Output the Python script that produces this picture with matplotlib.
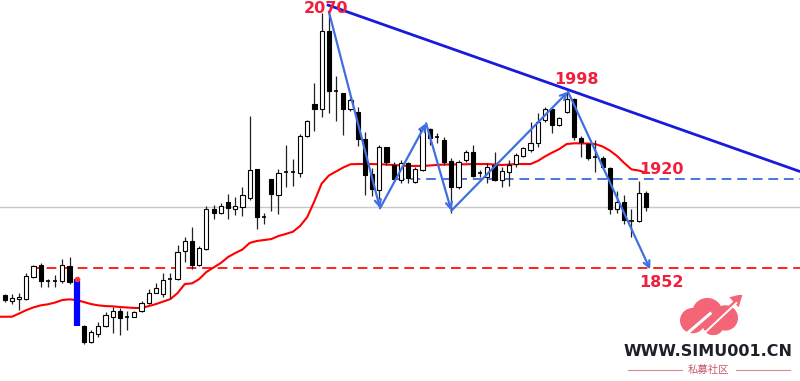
import matplotlib.pyplot as plt
import numpy as np
from matplotlib.patches import Circle, Polygon

# candle data (price), one per bar, left to right
opens = [1829.8, 1825.0, 1826.4, 1826.6, 1845.5, 1855.4, 1842.4, 1842.4, 1842.1, 1854.5,
         1843.3, 1803.8, 1790.6, 1797.1, 1803.8, 1811.7, 1816.5, 1811.6, 1811.7, 1816.8,
         1823.0, 1832.0, 1830.9, 1843.8, 1843.3, 1867.5, 1875.7, 1855.4, 1868.9, 1902.4,
         1899.1, 1908.9, 1902.7, 1904.8, 1911.7, 1936.2, 1896.5, 1928.0, 1914.5, 1934.6,
         1934.6, 1933.4, 1964.8, 1991.4, 1986.9, 2053.4, 2003.0, 2001.0, 1986.9, 1984.9,
         1961.6, 1932.0, 1918.7, 1954.8, 1939.9, 1927.2, 1941.3, 1925.8, 1935.6, 1970.3,
         1964.1, 1961.0, 1943.3, 1921.5, 1944.1, 1951.1, 1933.1, 1930.0, 1939.9, 1927.6,
         1934.4, 1940.7, 1947.5, 1952.6, 1958.2, 1977.9, 1986.9, 1973.7, 1984.9, 1995.6,
         1963.1, 1957.9, 1946.9, 1945.5, 1937.1, 1903.1, 1908.9, 1893.1, 1892.8, 1916.5]
highs = [1830.9, 1830.9, 1831.7, 1848.9, 1855.4, 1856.8, 1843.5, 1846.9, 1860.2, 1862.1,
         1843.3, 1804.7, 1800.4, 1807.5, 1815.9, 1820.1, 1819.0, 1816.8, 1816.5, 1825.0,
         1834.8, 1839.9, 1848.4, 1848.6, 1872.3, 1879.3, 1887.2, 1871.4, 1905.2, 1906.1,
         1907.8, 1915.4, 1913.1, 1921.0, 1981.3, 1936.5, 1899.6, 1928.0, 1936.2, 1956.8,
         1944.7, 1966.1, 1978.3, 2008.9, 2068.6, 2070.0, 2015.1, 2001.0, 1996.5, 1988.6,
         1968.0, 1937.1, 1956.8, 1955.1, 1942.7, 1944.1, 1942.7, 1938.4, 1973.7, 1970.9,
         1966.7, 1963.8, 1946.0, 1944.1, 1952.6, 1956.8, 1935.6, 1941.6, 1950.9, 1937.9,
         1944.1, 1950.3, 1955.3, 1976.5, 1984.1, 1989.1, 1988.0, 1980.2, 2001.8, 1996.2,
         1964.4, 1958.9, 1960.6, 1947.7, 1938.6, 1918.2, 1914.5, 1902.4, 1926.6, 1918.2]
lows = [1824.4, 1822.4, 1817.3, 1825.8, 1844.4, 1836.8, 1836.8, 1836.8, 1840.4, 1839.3,
        1803.8, 1788.6, 1789.5, 1794.8, 1802.7, 1797.7, 1796.2, 1800.4, 1811.4, 1815.9,
        1822.4, 1831.5, 1828.6, 1827.2, 1842.7, 1858.2, 1851.7, 1854.5, 1868.0, 1894.0,
        1898.5, 1894.0, 1897.6, 1896.8, 1910.3, 1885.5, 1890.0, 1901.3, 1898.5, 1921.0,
        1922.1, 1930.0, 1963.5, 1968.6, 1980.7, 1983.6, 1977.3, 1965.2, 1985.9, 1955.9,
        1914.5, 1913.7, 1911.1, 1939.9, 1926.4, 1924.4, 1924.4, 1924.4, 1934.8, 1956.8,
        1958.2, 1939.9, 1899.1, 1919.6, 1942.7, 1929.7, 1929.7, 1924.7, 1926.4, 1921.5,
        1922.1, 1938.4, 1946.4, 1951.1, 1955.3, 1976.5, 1967.2, 1972.8, 1983.8, 1961.0,
        1946.9, 1944.1, 1933.9, 1937.6, 1898.5, 1899.6, 1890.0, 1879.3, 1892.0, 1901.3]
closes = [1825.8, 1827.5, 1828.6, 1846.1, 1854.5, 1842.1, 1841.9, 1841.9, 1855.4, 1840.8,
          1803.8, 1790.6, 1799.0, 1803.8, 1813.1, 1816.5, 1810.6, 1810.8, 1815.9, 1823.0,
          1832.0, 1836.2, 1842.7, 1843.1, 1866.6, 1875.7, 1855.4, 1869.5, 1902.4, 1899.1,
          1905.2, 1903.3, 1905.2, 1914.5, 1935.6, 1896.2, 1895.9, 1915.4, 1932.9, 1934.0,
          1934.0, 1964.4, 1977.3, 1986.9, 2053.4, 2002.7, 2002.4, 1986.9, 1994.8, 1961.6,
          1931.4, 1919.6, 1955.3, 1942.7, 1928.0, 1941.3, 1928.6, 1936.5, 1970.9, 1962.9,
          1963.5, 1942.7, 1921.5, 1942.7, 1951.1, 1931.0, 1932.5, 1938.4, 1927.2, 1934.8,
          1940.3, 1948.3, 1954.0, 1958.7, 1976.5, 1986.9, 1973.7, 1979.3, 1995.6, 1963.3,
          1959.3, 1945.5, 1946.4, 1938.2, 1902.9, 1908.4, 1893.1, 1892.6, 1916.5, 1904.6]
highlight_bar = 10

ma_x_start = -0.65
ma_values = [1811.7, 1811.7, 1814.4, 1817.3, 1819.6, 1821.3, 1822.2, 1823.7, 1825.8, 1826.4,
             1825.8, 1824.1, 1822.4, 1821.3, 1820.7, 1820.5, 1819.9, 1819.5, 1819.1, 1819.1,
             1820.7, 1822.4, 1824.5, 1826.6, 1831.7, 1839.3, 1839.9, 1843.5, 1849.5, 1853.3,
             1857.1, 1862.1, 1865.5, 1868.5, 1874.0, 1875.7, 1876.5, 1877.3, 1879.9, 1881.6,
             1883.5, 1888.3, 1895.9, 1909.4, 1924.2, 1931.0, 1934.4, 1937.8, 1940.5, 1940.7,
             1940.7, 1940.7, 1940.5, 1940.3, 1939.9, 1939.5, 1939.1, 1939.1, 1939.1, 1939.5,
             1939.9, 1940.3, 1940.3, 1940.5, 1940.5, 1940.7, 1940.7, 1940.7, 1940.3, 1939.9,
             1940.3, 1940.7, 1940.7, 1940.7, 1943.3, 1947.1, 1950.4, 1953.4, 1957.6, 1958.2,
             1958.2, 1958.0, 1957.6, 1955.5, 1952.1, 1947.5, 1941.6, 1936.2, 1935.2, 1933.5]

zigzag_x = [45.0, 52.1, 58.5, 62.0, 78.2, 89.6]
zigzag_y = [2069.4, 1903.3, 1975.1, 1901.3, 2001.8, 1851.7]
trend_x = [44.9, 110.4]
trend_y = [2075.0, 1934.4]

support_level = 1852.8
support_start = 3.6
neckline_level = 1927.8
neckline_start = 54.2
last_price = 1904.4

labels = ['2070', '1998', '1920', '1852']
label_x = [44.6, 79.3, 91.2, 91.2]
label_y = [2072.0, 2012.5, 1935.7, 1840.2]

RED = '#f0203c'

fig = plt.figure(figsize=(8, 3.81), dpi=100)
ax = fig.add_axes([0, 0, 1, 1])
ax.set_xlim(-0.65, 110.4)
ax.set_ylim(1757.4, 2079.3)
ax.axis('off')

ax.axhline(last_price, color='#c8c8c8', lw=1, zorder=1)
ax.hlines(support_level, support_start, 111, colors='#ff2020', linestyles=(0, (5, 3)), lw=1.4, zorder=2)
ax.hlines(neckline_level, neckline_start, 111, colors='#4a74e0', linestyles=(0, (5, 3)), lw=1.4, zorder=2)

x = np.arange(len(opens))
ax.plot(np.r_[ma_x_start, x], [ma_values[0]] + ma_values, color='#ff0000', lw=1.5, zorder=3)

w = 0.58
for i in x:
    o, h, l, c = opens[i], highs[i], lows[i], closes[i]
    if i == highlight_bar:
        ax.vlines(i, c, o, color='#0000ff', lw=4.5, zorder=5)
        ax.plot(i, o, 'o', color='#ff3030', ms=3, zorder=6)
        continue
    ax.vlines(i, l, h, color='#222222', lw=0.9, zorder=4)
    if abs(c - o) < 1.0:
        ax.hlines((o + c) / 2, i - w / 2, i + w / 2, color='#000000', lw=1.2, zorder=5)
    else:
        face = 'white' if c > o else 'black'
        ax.bar(i, abs(c - o), bottom=min(o, c), width=w, color=face,
               edgecolor='black', lw=0.8, zorder=5)

ax.plot(trend_x, trend_y, color='#1a1adc', lw=2, zorder=6)
for k in range(len(zigzag_x) - 1):
    ax.annotate('', xy=(zigzag_x[k + 1], zigzag_y[k + 1]), xytext=(zigzag_x[k], zigzag_y[k]),
                arrowprops=dict(arrowstyle='->', color='#3f6fe0', lw=1.6,
                                shrinkA=0, shrinkB=0, mutation_scale=11), zorder=7)

for t, lx, ly in zip(labels, label_x, label_y):
    ax.text(lx, ly, t, color=RED, fontsize=11.5, fontweight='bold',
            ha='center', va='center', zorder=8)

# watermark logo
lg = fig.add_axes([0.84, 0.12, 0.095, 0.105])
lg.set_xlim(0, 10)
lg.set_ylim(0, 6)
lg.set_aspect('equal')
lg.axis('off')
for cx, cy, r in [(2.4, 2.2, 1.9), (4.6, 3.3, 2.3), (7.3, 2.6, 1.9), (5.5, 1.6, 1.6)]:
    lg.add_patch(Circle((cx, cy), r, color='#f36577', lw=0))
lg.plot([1.6, 5.2], [0.3, 3.4], color='white', lw=2.2, solid_capstyle='butt')
lg.plot([4.0, 9.0], [0.3, 5.0], color='white', lw=2.2, solid_capstyle='butt')
lg.plot([4.3, 9.0], [0.9, 5.3], color='#f36577', lw=1.6)
lg.add_patch(Polygon([[9.9, 6.2], [7.9, 5.7], [9.3, 4.2]], color='#f36577', lw=0))

fig.text(0.885, 0.077, 'WWW.SIMU001.CN', color='#1f1f2a', fontsize=11.5, fontweight='bold',
         ha='center', va='center', family=['DejaVu Sans'])
fig.text(0.886, 0.03, '私募社区', color='#c85a6a', fontsize=7.5, ha='center', va='center',
         family=['Noto Sans CJK SC', 'DejaVu Sans'])
fig.add_artist(plt.Line2D([0.785, 0.852], [0.03, 0.03], color='#d88a96', lw=0.8))
fig.add_artist(plt.Line2D([0.92, 0.988], [0.03, 0.03], color='#d88a96', lw=0.8))

fig.savefig('out.png', dpi=100)
